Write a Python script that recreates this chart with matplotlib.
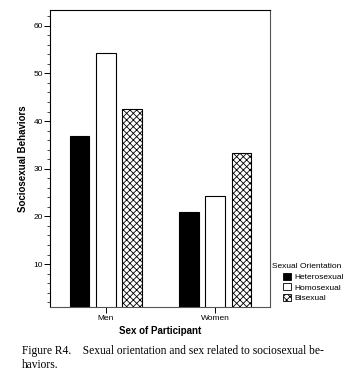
import matplotlib
matplotlib.use("Agg")
import matplotlib.pyplot as plt
import numpy as np
from matplotlib.ticker import MultipleLocator
from matplotlib.patches import Patch

groups = ["Men", "Women"]
orientations = ["Heterosexual", "Homosexual", "Bisexual"]
values = {
    "Heterosexual": [36.9, 20.9],
    "Homosexual": [54.2, 24.3],
    "Bisexual": [42.5, 33.4],
}
yticks = [10, 20, 30, 40, 50, 60]

plt.rcParams['hatch.linewidth'] = 0.6

fig = plt.figure(figsize=(3.53, 3.84), dpi=100)
ax = fig.add_axes([50/353, 1-307/384, 220/353, 297/384])

x = np.arange(len(groups))
width = 0.18
offsets = [-0.24, 0, 0.24]
styles = [
    dict(facecolor="black", edgecolor="black", hatch=None),
    dict(facecolor="white", edgecolor="black", hatch=None),
    dict(facecolor="white", edgecolor="black", hatch="xxxxx"),
]
for o, off, st in zip(orientations, offsets, styles):
    ax.bar(x + off, values[o], width, linewidth=0.8, **st)

ax.set_xlim(-0.51, 1.50)
ax.set_ylim(1, 63.3)
ax.set_yticks(yticks)
ax.yaxis.set_minor_locator(MultipleLocator(2))
ax.set_xticks(x)
ax.set_xticklabels(groups, fontsize=6, family="Liberation Sans")
ax.tick_params(axis="y", labelsize=6, length=4, width=0.7, pad=1)
ax.tick_params(axis="y", which="minor", length=2, width=0.5)
ax.tick_params(axis="x", length=4, width=0.7, pad=2)
for lab in ax.get_yticklabels():
    lab.set_family("Liberation Sans")
for s in ax.spines.values():
    s.set_linewidth(0.8)
ax.spines["right"].set_color("#555555")
ax.spines["bottom"].set_color("#555555")

ax.set_xlabel("Sex of Participant", fontsize=7, fontweight="bold", family="Liberation Sans", labelpad=3)
ax.set_ylabel("Sociosexual Behaviors", fontsize=7, fontweight="bold", family="Liberation Sans", labelpad=4)

fig.text(272/353, 1-266/384, "Sexual Orientation", fontsize=6, family="Liberation Sans", va="center")
handles = [Patch(facecolor=st["facecolor"], edgecolor="black", hatch=st["hatch"], linewidth=0.6) for st in styles]
leg = fig.legend(handles, orientations, loc="upper left", bbox_to_anchor=(278/353, 1-268/384),
                 frameon=False, handlelength=0.9, handleheight=0.9, handletextpad=0.5,
                 labelspacing=0.25, borderpad=0.1, prop={"family": "Liberation Sans", "size": 6})

fig.text(22/353, 1-354/384, "Figure R4.    Sexual orientation and sex related to sociosexual be-",
         fontsize=8.3, family="Liberation Serif", va="baseline")
fig.text(22/353, 1-368/384, "haviors.", fontsize=8.3, family="Liberation Serif", va="baseline")

fig.savefig("out.png", dpi=100)
